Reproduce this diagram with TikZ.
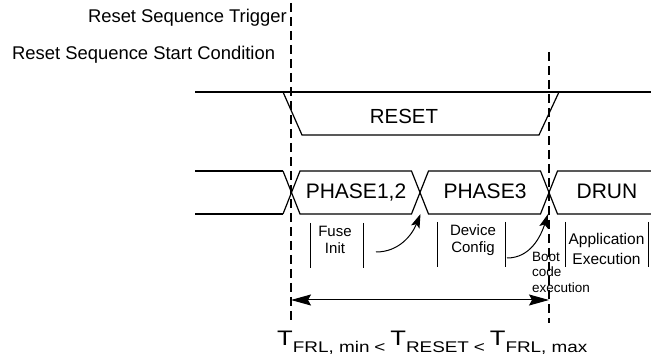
\documentclass[tikz,border=0pt]{standalone}
\usepackage{fontspec}
\setmainfont{Liberation Sans}
\usetikzlibrary{arrows.meta}

\tikzset{
  sig/.style={line width=1.2pt},
  idle/.style={line width=1.9pt},
  marker/.style={line width=2pt, dash pattern=on 9pt off 5pt},
  bar/.style={line width=0.9pt},
  hook/.style={line width=1pt, -{Stealth[length=14pt,width=9pt,inset=3pt]}},
  span/.style={line width=1pt, {Stealth[length=20pt,width=11pt,inset=3pt]}-{Stealth[length=20pt,width=11pt,inset=3pt]}},
  big/.style={font=\fontsize{18.4}{22}\selectfont},
  phase/.style={font=\fontsize{21}{25}\selectfont, anchor=base},
  note/.style={font=\fontsize{15}{17}\selectfont, align=center, inner sep=0pt}
}
\newcommand{\lowsub}[1]{\raisebox{-7.5pt}{\fontsize{15.5}{18}\selectfont #1}}
\newcommand{\lt}{\hspace{4pt}\raisebox{-7pt}{\fontsize{15.5}{18}\selectfont<}\hspace{4pt}}

\begin{document}
\begin{tikzpicture}[x=1pt,y=-1pt]
        \useasboundingbox (0,0) rectangle (651,358);

        % Coordinates
        \coordinate (A) at (291, 3);
        \coordinate (B) at (291, 323);
        \coordinate (C) at (549, 52);
        \coordinate (D) at (549, 323);
        \coordinate (E) at (291, 300);
        \coordinate (F) at (549, 300);
        \coordinate (G) at (376, 252);
        \coordinate (H) at (420.5, 214);
        \coordinate (I) at (507, 258);
        \coordinate (J) at (548, 214);

        % Labels
        \node[big, anchor=base east, inner sep=0pt] (trig) at (287, 23) {Reset Sequence Trigger};
        \node[big, anchor=base west, inner sep=0pt] (start) at (12, 60) {Reset Sequence Start Condition};
        \node[font=\fontsize{20.4}{24}\selectfont, anchor=base] (rst) at (404, 124) {RESET};
        \node[phase] (ph12) at (356, 199) {PHASE1,2};
        \node[phase] (ph3) at (485, 199) {PHASE3};
        \node[phase] (drun) at (607, 199) {DRUN};
        \node[note] (fuse) at (335, 240) {Fuse\\Init};
        \node[note] (dev) at (473, 240) {Device\\Config};
        \node[note, font=\fontsize{15.5}{20}\selectfont] (app) at (606.5, 249) {Application\\Execution};
        \node[note, font=\fontsize{13.5}{16}\selectfont, align=left, anchor=base west] (boot) at (532, 293) {Boot\\code\\execution};
        \node[anchor=base west, inner sep=0pt, font=\fontsize{21}{25}\selectfont] (trl) at (277, 345)
            {\scalebox{1.22}[1]{T\lowsub{FRL, min}\lt T\lowsub{RESET}\lt T\lowsub{FRL, max}}};

        % Drawing
        \draw[idle] (195, 92) -- (283, 92);
        \draw[sig] (283, 92) -- (651, 92);
        \draw[sig] (283, 92) -- (302, 135) -- (539, 135) -- (559, 92);

        \draw[idle] (195, 171) -- (283, 171);
        \draw[idle] (195, 214) -- (283, 214);
        \draw[sig] (283, 171) -- (300, 214) -- (411.5, 214) -- (428.5, 171) -- (540.5, 171) -- (557.5, 214) -- (651, 214);
        \draw[sig] (283, 214) -- (300, 171) -- (411.5, 171) -- (428.5, 214) -- (540.5, 214) -- (557.5, 171) -- (651, 171);

        \draw[bar] (310, 223) -- (310, 268);
        \draw[bar] (363, 223) -- (363, 268);
        \draw[bar] (437, 222) -- (437, 267);
        \draw[bar] (505, 222) -- (505, 267);
        \draw[bar] (565, 222) -- (565, 267);
        \draw[bar] (648, 222) -- (648, 267);

        \draw[marker] (A) -- (B);
        \draw[marker] (C) -- (D);

        \draw[hook] (G) to[out=0, in=-112] (H);
        \draw[hook] (I) to[out=0, in=-108] (J);
        \draw[span] (E) -- (F);
    \end{tikzpicture}
\end{document}
